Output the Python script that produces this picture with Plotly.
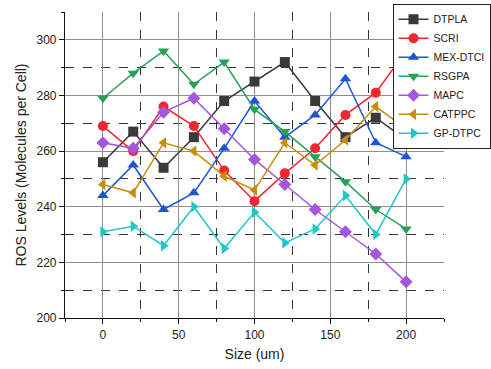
import plotly.graph_objects as go

sizes = [0, 20, 40, 60, 80, 100, 120, 140, 160, 180, 200]
dtpla = [256, 267, 254, 265, 278, 285, 292, 278, 265, 272, 264]
scri = [269, 260, 276, 269, 253, 242, 252, 261, 273, 281, 296]
mex_dtci = [244, 255, 239, 245, 261, 278, 265, 273, 286, 263, 258]
rsgpa = [279, 288, 296, 284, 292, 275, 267, 258, 249, 239, 232]
mapc = [263, 261, 274, 279, 268, 257, 248, 239, 231, 223, 213]
catppc = [248, 245, 263, 260, 251, 246, 263, 255, 264, 276, 268]
gp_dtpc = [231, 233, 226, 240, 225, 238, 227, 232, 244, 230, 250]

series = [
    ("DTPLA", dtpla, "#3a3a3a", "square"),
    ("SCRI", scri, "#f2262e", "circle"),
    ("MEX-DTCI", mex_dtci, "#1c55d6", "triangle-up"),
    ("RSGPA", rsgpa, "#27a058", "triangle-down"),
    ("MAPC", mapc, "#a656dc", "diamond"),
    ("CATPPC", catppc, "#c48e10", "triangle-left"),
    ("GP-DTPC", gp_dtpc, "#1ec8c8", "triangle-right"),
]

fig = go.Figure()
for name, vals, color, sym in series:
    fig.add_trace(go.Scatter(
        x=sizes, y=vals, name=name, mode="lines+markers",
        line=dict(color=color, width=1.5),
        marker=dict(symbol=sym, size=10, color=color),
    ))

fig.update_layout(
    width=491, height=369,
    margin=dict(l=65, r=47, t=12, b=51, autoexpand=False),
    paper_bgcolor="white", plot_bgcolor="white",
    font=dict(family="Liberation Sans, Arial, sans-serif", size=12, color="#222"),
    legend=dict(
        xref="container", yref="container",
        x=0.999, y=0.99, xanchor="right", yanchor="top",
        bgcolor="white", bordercolor="#222", borderwidth=1,
        font=dict(size=10.5), tracegroupgap=0, itemwidth=30,
    ),
    xaxis=dict(
        range=[-25, 225], tickvals=[0, 50, 100, 150, 200],
        showgrid=True, gridcolor="#8f8f8f", gridwidth=1.2,
        minor=dict(dtick=25, tick0=0, showgrid=True, gridcolor="#333",
                   griddash="dash", gridwidth=1, ticks="outside", ticklen=3,
                   tickcolor="#111"),
        showline=True, linecolor="#111", linewidth=1.2,
        ticks="outside", ticklen=5, tickcolor="#111",
        zeroline=False, automargin=False,
        title=dict(text="Size (um)", font=dict(size=14), standoff=8),
    ),
    yaxis=dict(
        range=[200, 310], tickvals=[200, 220, 240, 260, 280, 300],
        showgrid=True, gridcolor="#8f8f8f", gridwidth=1.2,
        minor=dict(dtick=10, tick0=200, showgrid=True, gridcolor="#333",
                   griddash="dash", gridwidth=1, ticks="outside", ticklen=3,
                   tickcolor="#111"),
        showline=True, linecolor="#111", linewidth=1.2,
        ticks="outside", ticklen=5, tickcolor="#111",
        zeroline=False, automargin=False,
        title=dict(text="ROS Levels (Molecules per Cell)", font=dict(size=14), standoff=6),
    ),
)

fig.write_html("out.html", config={"displayModeBar": False},
               post_script="document.body.style.margin='0';document.body.style.overflow='hidden';")
